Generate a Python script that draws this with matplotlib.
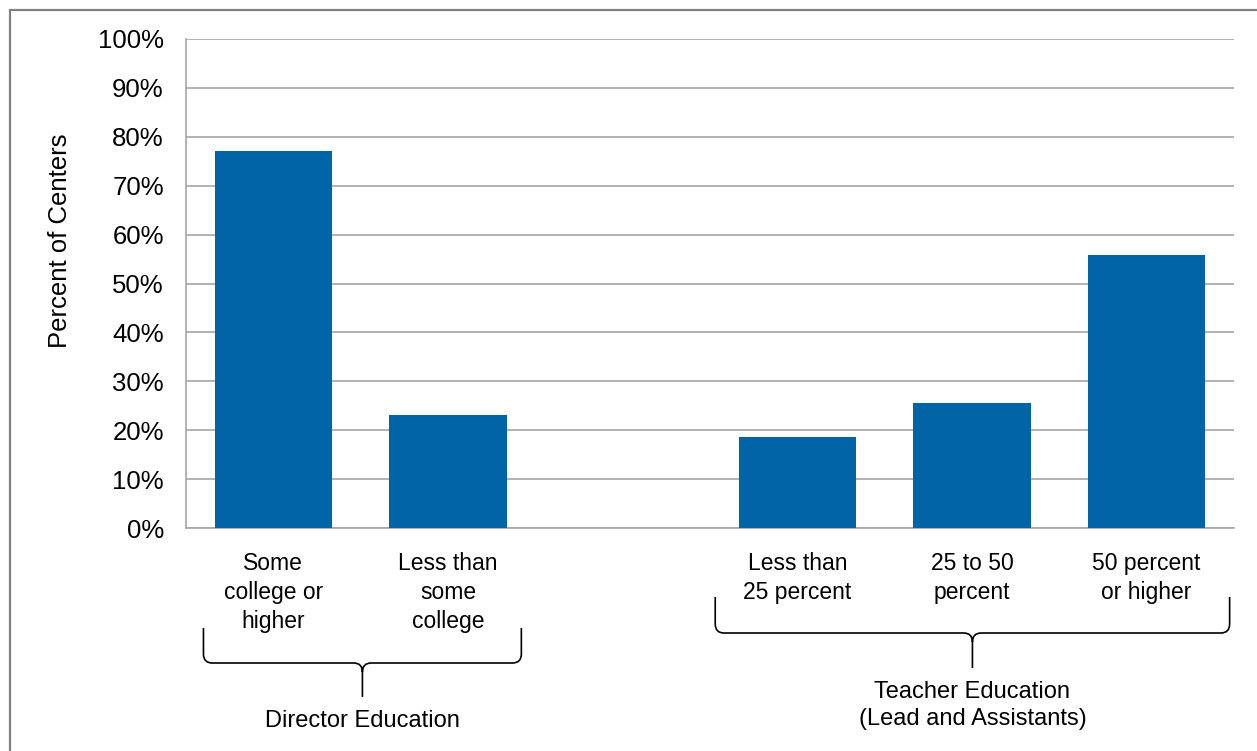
import matplotlib
matplotlib.use("Agg")
import matplotlib.pyplot as plt
from matplotlib.path import Path
from matplotlib.patches import PathPatch, Rectangle
from matplotlib import transforms
from matplotlib.ticker import PercentFormatter

plt.rcParams["font.family"] = ["Liberation Sans", "DejaVu Sans"]

# data
categories = ["Some\ncollege or\nhigher", "Less than\nsome\ncollege", "",
              "Less than\n25 percent", "25 to 50\npercent", "50 percent\nor higher"]
values = [77.1, 23.1, None, 18.6, 25.6, 55.8]
groups = ["Director Education", "Teacher Education\n(Lead and Assistants)"]
group_members = [(0, 1), (3, 5)]

W, H = 1257, 751
fig = plt.figure(figsize=(W / 100, H / 100), dpi=100)
ax = fig.add_axes([186 / W, 1 - 528 / H, 1048 / W, 489 / H])

xs = [i for i, v in enumerate(values) if v is not None]
ys = [v for v in values if v is not None]
ax.bar(xs, ys, width=0.67, color="#0064A6", zorder=3)

ax.set_xlim(-0.5, len(categories) - 0.5)
ax.set_ylim(0, 100)
ax.set_yticks(range(0, 101, 10))
ax.yaxis.set_major_formatter(PercentFormatter(decimals=0))
ax.set_xticks([])
ax.tick_params(axis="y", length=0, pad=16, labelsize=18.5)
ax.grid(axis="y", color="#A6A6A6", linewidth=1.2, zorder=0)
for s in ["top", "right"]:
    ax.spines[s].set_visible(False)
for s in ["left", "bottom"]:
    ax.spines[s].set_color("#A6A6A6")
    ax.spines[s].set_linewidth(1.2)
ax.set_ylabel("Percent of Centers", fontsize=18.5)
ax.yaxis.set_label_coords(-0.109, 0.587)

# category labels under bars
trans = transforms.blended_transform_factory(ax.transData, fig.transFigure)
for i, lab in enumerate(categories):
    ax.text(i, 1 - 552 / H, lab, transform=trans, ha="center", va="top",
            fontsize=16.5, linespacing=1.33)


def brace(x0, x1, ytop, ymid, ytip, rx=0.05, ry=9):
    xc = (x0 + x1) / 2
    f = lambda y: 1 - y / H
    verts = [(x0, f(ytop)), (x0, f(ymid - ry)), (x0, f(ymid)), (x0 + rx, f(ymid)),
             (xc - rx, f(ymid)), (xc, f(ymid)), (xc, f(ymid + ry)), (xc, f(ytip)),
             (xc, f(ymid + ry)), (xc, f(ymid)), (xc + rx, f(ymid)),
             (x1 - rx, f(ymid)), (x1, f(ymid)), (x1, f(ymid - ry)), (x1, f(ytop))]
    codes = [Path.MOVETO, Path.LINETO, Path.CURVE3, Path.CURVE3,
             Path.LINETO, Path.CURVE3, Path.CURVE3, Path.LINETO,
             Path.MOVETO, Path.CURVE3, Path.CURVE3,
             Path.LINETO, Path.CURVE3, Path.CURVE3, Path.LINETO]
    ax.add_patch(PathPatch(Path(verts, codes), transform=trans, fill=False,
                           lw=1.2, color="black", clip_on=False))
    return xc


# brace end top, brace bar, brace tip, label top (pixels from top), side padding
brace_rows = [(628, 663, 697, 710, 0.4, 0.42), (597, 633, 668, 681, 0.47, 0.475)]
for (a, b), name, (yt, ym, yp, yl, pl, pr) in zip(group_members, groups, brace_rows):
    xc = brace(a - pl, b + pr, yt, ym, yp)
    ax.text(xc, 1 - yl / H, name, transform=trans, ha="center", va="top",
            fontsize=17, linespacing=1.3)

# outer frame
fig.patches.append(Rectangle((10 / W, -0.1), 1.2, 1 - 10 / H + 0.1,
                             transform=fig.transFigure, fill=False,
                             edgecolor="#808080", lw=1.6))

fig.savefig("out.png", dpi=100)
